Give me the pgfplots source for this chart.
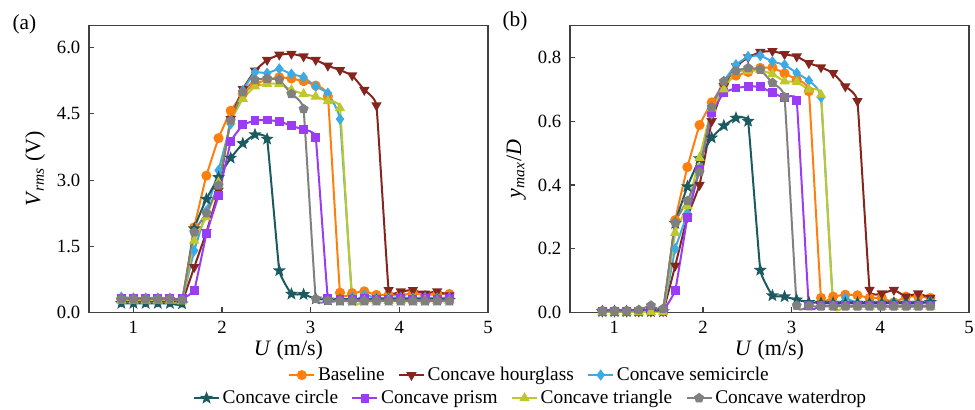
\documentclass[border=0pt]{standalone}
\usepackage{fontspec}
\setmainfont{Liberation Serif}
\usepackage{pgfplots}
\pgfplotsset{compat=1.18}
\usepackage{pgfplotstable}
\usetikzlibrary{plotmarks}

\definecolor{cbase}{RGB}{255,127,14}
\definecolor{chour}{RGB}{133,38,30}
\definecolor{csemi}{RGB}{61,170,227}
\definecolor{ccirc}{RGB}{26,90,96}
\definecolor{cprism}{RGB}{155,60,245}
\definecolor{ctri}{RGB}{190,200,42}
\definecolor{cwater}{RGB}{128,128,128}

\pgfdeclareplotmark{fstar}{%
  \pgfpathmoveto{\pgfpointpolar{90}{\pgfplotmarksize}}%
  \pgfpathlineto{\pgfpointpolar{126}{0.42\pgfplotmarksize}}%
  \pgfpathlineto{\pgfpointpolar{162}{\pgfplotmarksize}}%
  \pgfpathlineto{\pgfpointpolar{198}{0.42\pgfplotmarksize}}%
  \pgfpathlineto{\pgfpointpolar{234}{\pgfplotmarksize}}%
  \pgfpathlineto{\pgfpointpolar{270}{0.42\pgfplotmarksize}}%
  \pgfpathlineto{\pgfpointpolar{306}{\pgfplotmarksize}}%
  \pgfpathlineto{\pgfpointpolar{342}{0.42\pgfplotmarksize}}%
  \pgfpathlineto{\pgfpointpolar{18}{\pgfplotmarksize}}%
  \pgfpathlineto{\pgfpointpolar{54}{0.42\pgfplotmarksize}}%
  \pgfpathclose\pgfusepathqfillstroke}

\pgfplotstableread{
U     base hour semi circ prism tri  water
0.865 0.30 0.25 0.35 0.21 0.31 0.27 0.31
1.002 0.30 0.25 0.33 0.21 0.31 0.27 0.31
1.139 0.30 0.25 0.33 0.21 0.31 0.27 0.31
1.276 0.30 0.25 0.33 0.21 0.31 0.27 0.31
1.413 0.30 0.25 0.33 0.21 0.31 0.27 0.31
1.550 0.28 0.24 0.30 0.20 0.31 0.25 0.29
1.687 1.93 1.03 1.40 1.90 0.50 1.63 1.82
1.824 3.10 1.82 2.30 2.57 1.78 2.16 2.25
1.961 3.95 2.76 3.22 3.06 2.65 2.95 2.88
2.098 4.57 4.38 4.27 3.50 3.87 4.33 4.35
2.235 4.95 5.06 5.03 3.83 4.25 4.84 4.99
2.372 5.18 5.48 5.44 4.03 4.35 5.12 5.27
2.509 5.27 5.72 5.42 3.93 4.36 5.18 5.30
2.646 5.33 5.84 5.52 0.95 4.33 5.18 5.27
2.783 5.30 5.86 5.40 0.42 4.23 5.04 4.95
2.920 5.24 5.80 5.33 0.41 4.14 4.95 4.61
3.057 5.14 5.72 5.12 0.31 3.97 4.89 0.31
3.194 4.90 5.59 4.97 0.29 0.31 4.79 0.27
3.331 0.45 5.49 4.38 0.28 0.30 4.63 0.26
3.468 0.44 5.37 0.35 0.28 0.30 0.26 0.26
3.605 0.48 5.04 0.40 0.28 0.31 0.26 0.26
3.742 0.40 4.69 0.33 0.28 0.30 0.26 0.26
3.879 0.40 0.51 0.33 0.28 0.30 0.27 0.26
4.016 0.39 0.48 0.34 0.28 0.31 0.26 0.26
4.153 0.44 0.51 0.33 0.28 0.30 0.26 0.26
4.290 0.39 0.43 0.34 0.28 0.31 0.27 0.26
4.427 0.42 0.48 0.33 0.28 0.30 0.26 0.26
4.564 0.42 0.39 0.34 0.28 0.31 0.26 0.26
}\Vtab

\pgfplotstableread{
U     base  hour  semi  circ  prism tri   water
0.865 0.005 0.003 0.006 0.003 0.004 0.002 0.004
1.002 0.005 0.003 0.006 0.003 0.004 0.002 0.004
1.139 0.005 0.003 0.006 0.003 0.004 0.002 0.004
1.276 0.005 0.003 0.006 0.003 0.004 0.002 0.008
1.413 0.006 0.003 0.008 0.003 0.005 0.002 0.022
1.550 0.005 0.004 0.006 0.003 0.006 0.002 0.012
1.687 0.290 0.147 0.200 0.280 0.069 0.250 0.282
1.824 0.456 0.300 0.310 0.395 0.298 0.334 0.350
1.961 0.588 0.400 0.450 0.483 0.450 0.485 0.440
2.098 0.659 0.600 0.623 0.548 0.626 0.640 0.644
2.235 0.715 0.710 0.725 0.586 0.689 0.700 0.725
2.372 0.743 0.772 0.777 0.610 0.704 0.756 0.758
2.509 0.754 0.800 0.803 0.600 0.709 0.757 0.767
2.646 0.767 0.817 0.806 0.133 0.708 0.760 0.762
2.783 0.768 0.820 0.787 0.053 0.689 0.748 0.720
2.920 0.750 0.810 0.777 0.050 0.673 0.725 0.675
3.057 0.730 0.803 0.751 0.040 0.665 0.723 0.022
3.194 0.694 0.782 0.727 0.032 0.022 0.699 0.020
3.331 0.046 0.769 0.675 0.030 0.022 0.683 0.019
3.468 0.050 0.751 0.027 0.030 0.022 0.019 0.019
3.605 0.056 0.709 0.046 0.030 0.022 0.018 0.019
3.742 0.054 0.663 0.028 0.030 0.022 0.018 0.019
3.879 0.046 0.071 0.028 0.030 0.022 0.018 0.019
4.016 0.046 0.060 0.028 0.030 0.022 0.018 0.019
4.153 0.032 0.071 0.032 0.030 0.022 0.018 0.019
4.290 0.050 0.050 0.028 0.030 0.022 0.018 0.019
4.427 0.050 0.060 0.028 0.030 0.022 0.018 0.019
4.564 0.046 0.046 0.035 0.032 0.022 0.018 0.019
}\Ytab

\pgfplotsset{
  myaxis/.style={
    scale only axis, width=299.25pt, height=215.25pt,
    xmin=0.5, xmax=5, xtick={1,2,3,4,5},
    axis line style={black!75, line width=0.8pt},
    major tick style={black!75, line width=0.8pt},
    major tick length=4pt,
    tick align=inside, xtick pos=left, ytick pos=left,
    tick label style={font=\fontsize{14}{16}\selectfont, black},
    xticklabel style={yshift=-3pt},
    /pgf/number format/assume math mode=true,
    yticklabel style={xshift=-3pt, /pgf/number format/.cd, fixed, fixed zerofill, precision=1},
    xlabel={\textit{U} (m/s)},
    every axis x label/.style={at={(axis description cs:0.5,-0.131)}, anchor=center, font=\fontsize{16.5}{18}\selectfont},
    every axis y label/.style={at={(axis description cs:-0.135,0.5)}, rotate=90, anchor=center, font=\fontsize{16.5}{18}\selectfont},
    legend style={draw=none, fill=none, legend columns=-1, font=\fontsize{14.5}{16}\selectfont,
      /tikz/every even column/.append style={column sep=8pt}},
    legend cell align=left,
    legend image code/.code={\draw[mark repeat=2, mark phase=2] plot coordinates {(0cm,0cm) (0.33cm,0cm) (0.66cm,0cm)};},
  },
  pl/.style={line width=1.5pt, smooth, tension=0.15, mark size=3pt, mark options={solid}},
}

\begin{document}
\begin{tikzpicture}
\path[use as bounding box] (-66.75pt,-73.1pt) rectangle (664.5pt,234.4pt);
\begin{axis}[myaxis, at={(0pt,0pt)}, anchor=south west,
  ymin=0, ymax=6.5, ytick={0,1.5,3,4.5,6},
  ylabel={\textit{V}\textsubscript{\textit{rms}} (V)},
  legend style={at={(1.105,-0.218)}, anchor=center}]
\addplot[cbase, pl, mark=*] table[x=U,y=base]{\Vtab};
\addlegendentry{Baseline}
\addplot[chour, pl, mark=triangle*, mark options={rotate=180}] table[x=U,y=hour]{\Vtab};
\addlegendentry{Concave hourglass}
\addplot[csemi, pl, mark=diamond*] table[x=U,y=semi]{\Vtab};
\addlegendentry{Concave semicircle}
\addplot[ccirc, pl, mark=fstar, forget plot] table[x=U,y=circ]{\Vtab};
\addplot[cprism, pl, mark=square*, mark size=2.6pt, forget plot] table[x=U,y=prism]{\Vtab};
\addplot[ctri, pl, mark=triangle*, forget plot] table[x=U,y=tri]{\Vtab};
\addplot[cwater, pl, mark=pentagon*, forget plot] table[x=U,y=water]{\Vtab};
\end{axis}
\begin{axis}[myaxis, at={(360.75pt,0pt)}, anchor=south west,
  ymin=0, ymax=0.9, ytick={0,0.2,0.4,0.6,0.8},
  ylabel={\textit{y}\textsubscript{\textit{max}}/\textit{D}},
  legend style={at={(-0.098,-0.298)}, anchor=center}]
\addplot[cbase, pl, mark=*, forget plot] table[x=U,y=base]{\Ytab};
\addplot[chour, pl, mark=triangle*, mark options={rotate=180}, forget plot] table[x=U,y=hour]{\Ytab};
\addplot[csemi, pl, mark=diamond*, forget plot] table[x=U,y=semi]{\Ytab};
\addplot[ccirc, pl, mark=fstar] table[x=U,y=circ]{\Ytab};
\addlegendentry{Concave circle}
\addplot[cprism, pl, mark=square*, mark size=2.6pt] table[x=U,y=prism]{\Ytab};
\addlegendentry{Concave prism}
\addplot[ctri, pl, mark=triangle*] table[x=U,y=tri]{\Ytab};
\addlegendentry{Concave triangle}
\addplot[cwater, pl, mark=pentagon*] table[x=U,y=water]{\Ytab};
\addlegendentry{Concave waterdrop}
\end{axis}
\node[font=\fontsize{16}{18}\selectfont] at (-48.4pt,216.4pt) {(a)};
\node[font=\fontsize{16}{18}\selectfont] at (319.5pt,218.25pt) {(b)};
\end{tikzpicture}
\end{document}
